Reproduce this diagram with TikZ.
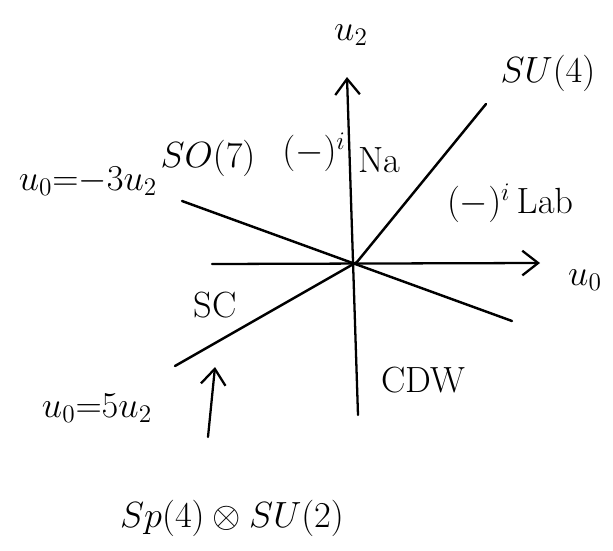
\documentclass[tikz,border=0pt]{standalone}
\usepackage{amsmath, amssymb}
\usetikzlibrary{arrows.meta, calc, positioning}
\tikzset{
  >={Straight Barb[length=9pt, width=14pt, line width=1.3pt]},
  every picture/.style={line cap=round, line join=round, font=\huge},
  axis/.style={->, line width=1.3pt},
  bound/.style={line width=1.4pt},
  lbl/.style={inner sep=1pt},
}
\begin{document}
\begin{tikzpicture}[x=0.02cm, y=-0.02cm]
  \useasboundingbox (0,0) rectangle (613,551);
  % ---------- axes
  \coordinate (O) at (357,262);
  \coordinate (u0s) at (212,264);
  \coordinate (u0e) at (540,263);
  \coordinate (u2s) at (358,415);
  \coordinate (u2e) at (347,77);
  \draw[axis] (u0s) -- (u0e);
  \draw[axis] (u2s) -- (u2e);
  \node[lbl] (u0) at (585,280) {$u_0$};
  \node[lbl] (u2) at (351,35) {$u_2$};
  % ---------- phase boundaries
  \coordinate (su4) at (486,104);   % SU(4) ray
  \coordinate (so7a) at (182,201);  % u0 = -3 u2
  \coordinate (so7b) at (512,321);
  \coordinate (sca) at (175,366);   % u0 = 5 u2
  \draw[bound] (O) -- (su4);
  \draw[bound] (so7a) -- (so7b);
  \draw[bound] (sca) -- (O);
  % ---------- labels of lines and phases
  \node[lbl] (su4l) at (548,73) {$SU(4)$};
  \node[lbl] (so7l) at (208,158) {$SO(7)$};
  \node[lbl] (eqso7) at (88,181) {$u_0{=}{-}3u_2$};
  \node[lbl] (naexp) at (314,152) {$(-)^i$};
  \node[lbl] (na) at (379,160) {Na};
  \node[lbl] (lab) at (510,203) {$(-)^i\,\mathrm{Lab}$};
  \node[lbl] (sc) at (215,305) {SC};
  \node[lbl] (cdw) at (423,380) {CDW};
  \node[lbl] (eqsc) at (97,408) {$u_0{=}5u_2$};
  \node[lbl] (sp4) at (232,518) {$Sp(4)\otimes SU(2)$};
  % ---------- arrow to the SC boundary
  \coordinate (pt) at (208,437);
  \coordinate (ph) at (215,367);
  \draw[axis] (pt) -- (ph);
\end{tikzpicture}
\end{document}
